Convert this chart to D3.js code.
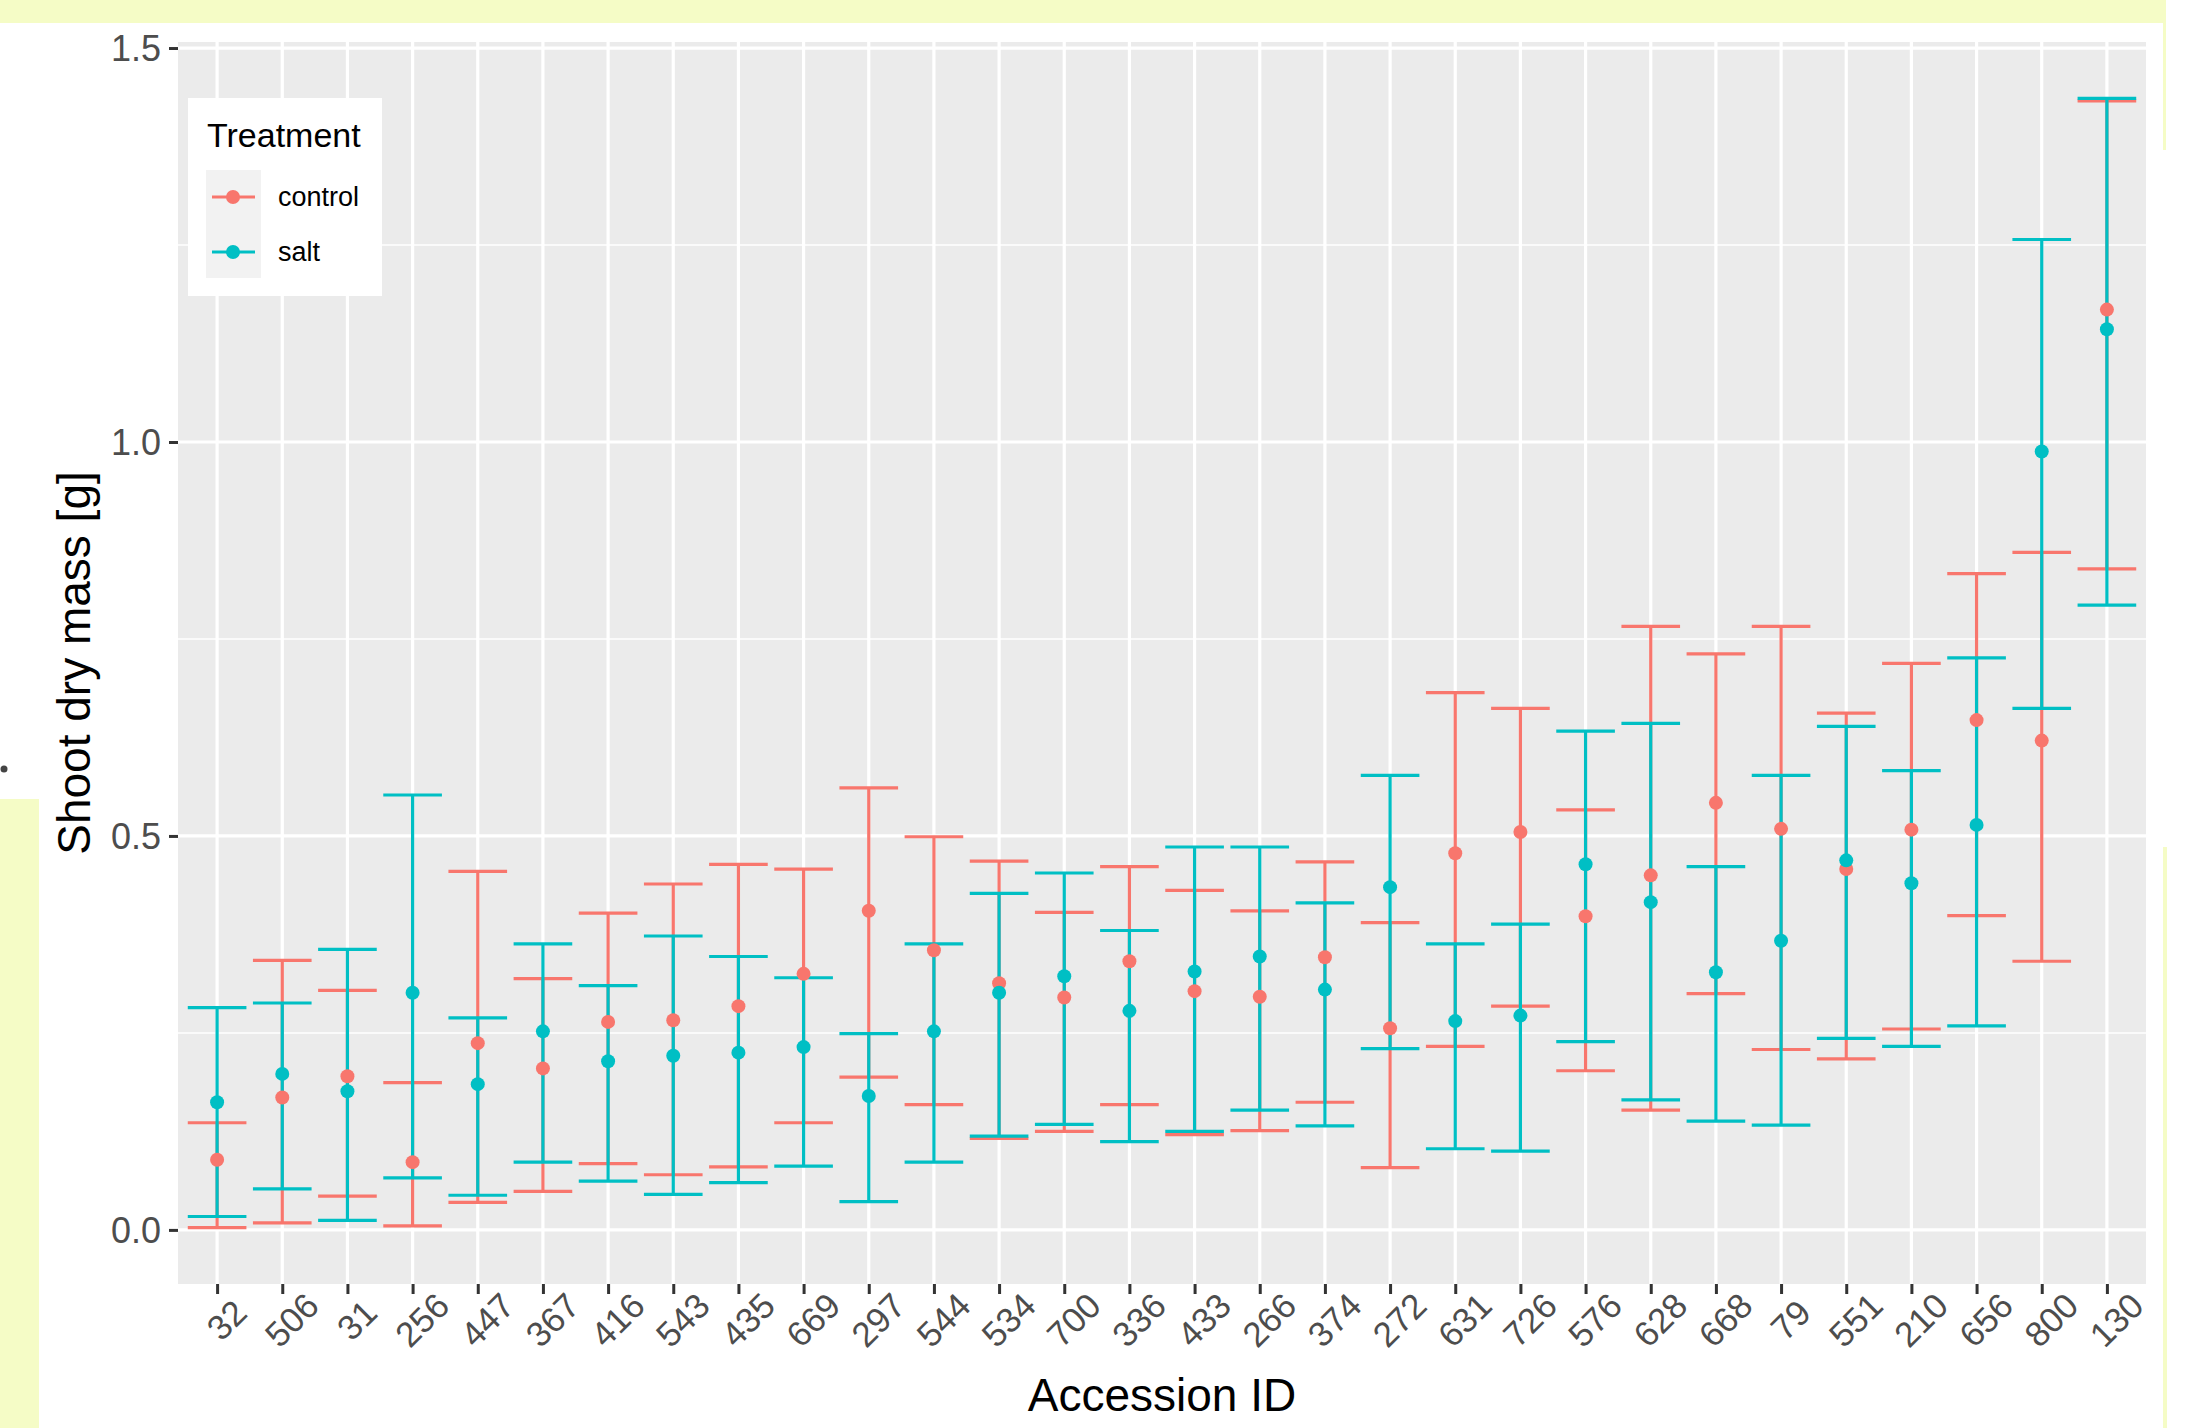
<!DOCTYPE html>
<html>
<head>
<meta charset="utf-8">
<script src="https://cdn.jsdelivr.net/npm/d3@7"></script>
<style>
  html, body { margin: 0; padding: 0; background: #fff; }
  svg { display: block; font-family: "Liberation Sans", Arial, sans-serif; }
</style>
</head>
<body>
<div id="chart"></div>
<script>
const accessions = ["32", "506", "31", "256", "447", "367", "416", "543", "435", "669",
  "297", "544", "534", "700", "336", "433", "266", "374", "272", "631",
  "726", "576", "628", "668", "79", "551", "210", "656", "800", "130"];

const controlMean = [0.089, 0.168, 0.195, 0.086, 0.237, 0.205, 0.264, 0.266, 0.284, 0.325,
  0.405, 0.355, 0.313, 0.295, 0.341, 0.303, 0.296, 0.346, 0.256, 0.478,
  0.505, 0.398, 0.450, 0.542, 0.509, 0.458, 0.508, 0.647, 0.621, 1.168];
const controlLow = [0.003, 0.009, 0.043, 0.005, 0.035, 0.049, 0.084, 0.070, 0.080, 0.136,
  0.194, 0.159, 0.116, 0.125, 0.159, 0.121, 0.126, 0.162, 0.079, 0.233,
  0.284, 0.202, 0.152, 0.300, 0.229, 0.217, 0.255, 0.399, 0.341, 0.839];
const controlHigh = [0.136, 0.342, 0.304, 0.187, 0.455, 0.319, 0.402, 0.439, 0.464, 0.458,
  0.561, 0.499, 0.468, 0.403, 0.461, 0.431, 0.405, 0.467, 0.390, 0.682,
  0.662, 0.533, 0.766, 0.731, 0.766, 0.656, 0.719, 0.833, 0.860, 1.433];

const saltMean = [0.162, 0.198, 0.176, 0.301, 0.185, 0.252, 0.214, 0.221, 0.225, 0.232,
  0.170, 0.252, 0.301, 0.322, 0.278, 0.328, 0.347, 0.305, 0.435, 0.265,
  0.272, 0.464, 0.416, 0.327, 0.367, 0.469, 0.440, 0.514, 0.988, 1.143];
const saltLow = [0.017, 0.052, 0.012, 0.066, 0.044, 0.086, 0.062, 0.045, 0.060, 0.081,
  0.036, 0.086, 0.119, 0.134, 0.112, 0.125, 0.152, 0.132, 0.230, 0.103,
  0.100, 0.239, 0.165, 0.138, 0.133, 0.243, 0.233, 0.259, 0.662, 0.793];
const saltHigh = [0.282, 0.288, 0.356, 0.552, 0.269, 0.363, 0.310, 0.373, 0.347, 0.320,
  0.249, 0.363, 0.427, 0.453, 0.380, 0.486, 0.486, 0.415, 0.577, 0.363,
  0.388, 0.633, 0.643, 0.461, 0.577, 0.639, 0.583, 0.726, 1.257, 1.436];

const treatments = ["control", "salt"];
const treatmentColors = ["#F8766D", "#00BFC4"];
const yTicks = [0, 0.5, 1.0, 1.5];
const yMinor = [0.25, 0.75, 1.25];

const W = 2196, H = 1428;
const panel = { left: 178, right: 2146, top: 42, bottom: 1284 };

const series = [
  { name: "control", mean: controlMean, lo: controlLow, hi: controlHigh },
  { name: "salt", mean: saltMean, lo: saltLow, hi: saltHigh }
].map(s => ({
  ...s,
  rows: accessions.map((id, i) => ({ id, mean: s.mean[i], lo: s.lo[i], hi: s.hi[i] }))
}));

const color = d3.scaleOrdinal().domain(treatments).range(treatmentColors);

const svg = d3.select("#chart").append("svg")
  .attr("width", W).attr("height", H).attr("viewBox", `0 0 ${W} ${H}`);

// screenshot background bits
const yellow = "#f5fcc6";
svg.append("rect").attr("x", 0).attr("y", 0).attr("width", 2166).attr("height", 23).attr("fill", yellow);
svg.append("rect").attr("x", 2163).attr("y", 0).attr("width", 3).attr("height", 150).attr("fill", yellow);
svg.append("rect").attr("x", 2163).attr("y", 847).attr("width", 4).attr("height", H - 847).attr("fill", yellow);
svg.append("rect").attr("x", 0).attr("y", 799).attr("width", 39).attr("height", H - 799).attr("fill", yellow);
svg.append("circle").attr("cx", 4).attr("cy", 769).attr("r", 3.5).attr("fill", "#444");

// scales (ggplot-style 5% expansion on y, 0.6 step on discrete x)
const lo = d3.min(series, s => d3.min(s.lo));
const hi = d3.max(series, s => d3.max(s.hi));
const pad = (hi - lo) * 0.05;
const y = d3.scaleLinear().domain([lo - pad, hi + pad]).range([panel.bottom, panel.top]);
const x = d3.scalePoint().domain(accessions).range([panel.left, panel.right]).padding(0.6);
const capHalf = x.step() * 0.45;

// panel background + grid
svg.append("rect")
  .attr("x", panel.left).attr("y", panel.top)
  .attr("width", panel.right - panel.left).attr("height", panel.bottom - panel.top)
  .attr("fill", "#EBEBEB");

const grid = svg.append("g").attr("stroke", "#fff");
grid.selectAll(".minor").data(yMinor).join("line")
  .attr("x1", panel.left).attr("x2", panel.right)
  .attr("y1", d => y(d)).attr("y2", d => y(d))
  .attr("stroke-width", 1.6);
grid.selectAll(".hmajor").data(yTicks).join("line")
  .attr("x1", panel.left).attr("x2", panel.right)
  .attr("y1", d => y(d)).attr("y2", d => y(d))
  .attr("stroke-width", 3.2);
grid.selectAll(".vmajor").data(accessions).join("line")
  .attr("x1", d => x(d)).attr("x2", d => x(d))
  .attr("y1", panel.top).attr("y2", panel.bottom)
  .attr("stroke-width", 3.2);

// error bars: control first, salt on top
const bars = svg.append("g").attr("fill", "none").attr("stroke-width", 3.2);
series.forEach(s => {
  const g = bars.append("g").attr("stroke", color(s.name));
  const eb = g.selectAll("g").data(s.rows).join("g");
  eb.append("line")
    .attr("x1", d => x(d.id)).attr("x2", d => x(d.id))
    .attr("y1", d => y(d.lo)).attr("y2", d => y(d.hi));
  eb.append("line")
    .attr("x1", d => x(d.id) - capHalf).attr("x2", d => x(d.id) + capHalf)
    .attr("y1", d => y(d.hi)).attr("y2", d => y(d.hi));
  eb.append("line")
    .attr("x1", d => x(d.id) - capHalf).attr("x2", d => x(d.id) + capHalf)
    .attr("y1", d => y(d.lo)).attr("y2", d => y(d.lo));
});

const pts = svg.append("g");
series.forEach(s => {
  pts.append("g").attr("fill", color(s.name))
    .selectAll("circle").data(s.rows).join("circle")
    .attr("cx", d => x(d.id)).attr("cy", d => y(d.mean)).attr("r", 7);
});

// axes
const yAxis = svg.append("g").attr("transform", `translate(${panel.left},0)`)
  .call(d3.axisLeft(y).tickValues(yTicks).tickSize(9).tickPadding(8).tickFormat(d3.format(".1f")));
yAxis.select(".domain").remove();
yAxis.selectAll(".tick line").attr("stroke", "#333").attr("stroke-width", 3);
yAxis.selectAll(".tick text").attr("fill", "#4D4D4D").attr("font-size", 36)
  .attr("font-family", "Liberation Sans, Arial, sans-serif").attr("dy", "0.36em");

const xAxis = svg.append("g").attr("transform", `translate(0,${panel.bottom})`)
  .call(d3.axisBottom(x).tickSize(10));
xAxis.select(".domain").remove();
xAxis.selectAll(".tick line").attr("stroke", "#333").attr("stroke-width", 3);
xAxis.selectAll(".tick text")
  .attr("fill", "#4D4D4D").attr("font-size", 35)
  .attr("font-family", "Liberation Sans, Arial, sans-serif")
  .attr("y", 0).attr("dy", "0.35em")
  .attr("text-anchor", "middle")
  .attr("transform", "translate(9,36) rotate(-45)");

// axis titles
svg.append("text")
  .attr("transform", `translate(90,${(panel.top + panel.bottom) / 2}) rotate(-90)`)
  .attr("text-anchor", "middle").attr("font-size", 46).attr("fill", "#000")
  .text("Shoot dry mass [g]");
svg.append("text")
  .attr("x", (panel.left + panel.right) / 2).attr("y", 1411)
  .attr("text-anchor", "middle").attr("font-size", 46).attr("fill", "#000")
  .text("Accession ID");

// legend
const legend = svg.append("g");
legend.append("rect").attr("x", 188).attr("y", 98).attr("width", 194).attr("height", 198).attr("fill", "#fff");
legend.append("text").attr("x", 207).attr("y", 147).attr("font-size", 34).attr("fill", "#000").text("Treatment");
legend.append("rect").attr("x", 206).attr("y", 170).attr("width", 55).attr("height", 108).attr("fill", "#F2F2F2");
const keys = legend.selectAll(".key").data(treatments).join("g")
  .attr("transform", (d, i) => `translate(233,${197 + i * 55})`);
keys.append("line").attr("x1", -21).attr("x2", 22)
  .attr("stroke", d => color(d)).attr("stroke-width", 3.2);
keys.append("circle").attr("r", 7).attr("fill", d => color(d));
keys.append("text").attr("x", 45).attr("dy", "0.35em")
  .attr("font-size", 27).attr("fill", "#000").text(d => d);
</script>
</body>
</html>
